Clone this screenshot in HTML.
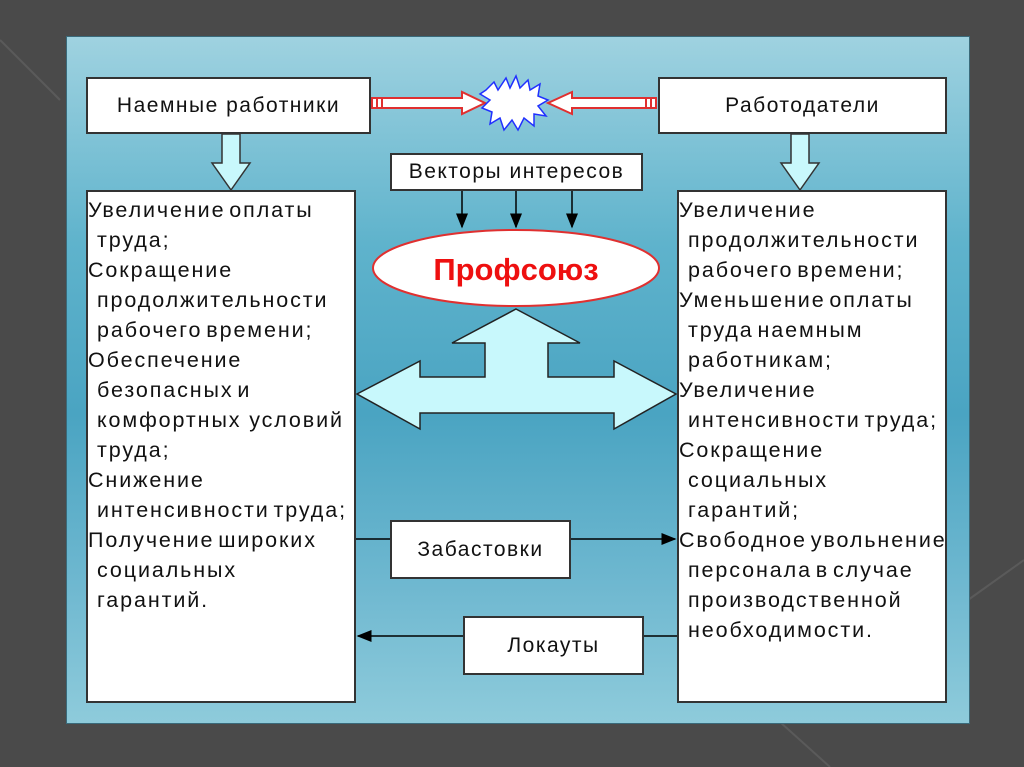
<!DOCTYPE html>
<html><head><meta charset="utf-8"><style>
body{margin:0;width:1024px;height:767px;overflow:hidden;background:#4a4a4a;font-family:"Liberation Sans",sans-serif;position:relative}
.panel{position:absolute;left:66px;top:36px;width:902px;height:686px;background:linear-gradient(#9fd2e0 0%,#5fb3cc 30%,#4aa4c2 55%,#6fb8d0 80%,#8ecbdb 100%);border:1px solid #3a6a7a}
.box{position:absolute;background:#fff;border:2px solid #333;box-sizing:border-box;color:#111;font-size:21px;letter-spacing:1.5px}
.c{display:flex;align-items:center;justify-content:center}
.list{line-height:30px;padding-top:3px;white-space:nowrap;letter-spacing:1.9px;word-spacing:-4px;font-size:21.5px}
.list div{padding-left:9px;text-indent:-9px}
</style></head><body>
<svg width="1024" height="767" style="position:absolute;left:0;top:0">
<line x1="0" y1="40" x2="60" y2="100" stroke="#5a5a5a" stroke-width="2"/>
<line x1="968" y1="600" x2="1024" y2="560" stroke="#5a5a5a" stroke-width="2"/>
<line x1="780" y1="722" x2="830" y2="767" stroke="#5a5a5a" stroke-width="2"/>
</svg>
<div class="panel"></div>
<svg width="1024" height="767" style="position:absolute;left:0;top:0">
<defs><marker id="a" markerWidth="10" markerHeight="8" refX="9" refY="4" orient="auto"><path d="M0,0L10,4L0,8z" fill="#000"/></marker></defs>
<path d="M372,98 H462 V92 L485,103 L462,114 V108 H372 Z" fill="#fff" stroke="#e03030" stroke-width="2"/>
<line x1="377" y1="98" x2="377" y2="108" stroke="#e03030" stroke-width="2"/><line x1="382" y1="98" x2="382" y2="108" stroke="#e03030" stroke-width="2"/>
<path d="M656,98 H572 V92 L548,103 L572,114 V108 H656 Z" fill="#fff" stroke="#e03030" stroke-width="2"/>
<line x1="651" y1="98" x2="651" y2="108" stroke="#e03030" stroke-width="2"/><line x1="646" y1="98" x2="646" y2="108" stroke="#e03030" stroke-width="2"/>
<path d="M486,90 L494,82 L498,90 L506,78 L510,88 L516,76 L520,88 L528,80 L530,90 L540,84 L538,96 L548,100 L538,106 L546,116 L534,114 L534,126 L524,118 L518,130 L512,120 L504,130 L500,118 L490,124 L492,112 L482,108 L490,100 L480,94 Z" fill="#fff" stroke="#2030ff" stroke-width="1.5"/>
<path d="M222,134 H240 V163 H250 L231,190 L212,163 H222 Z" fill="#c8f8fc" stroke="#333" stroke-width="1.5"/>
<path d="M791,134 H809 V163 H819 L800,190 L781,163 H791 Z" fill="#c8f8fc" stroke="#333" stroke-width="1.5"/>
<line x1="462" y1="190" x2="462" y2="227" stroke="#000" stroke-width="1.5" marker-end="url(#a)"/>
<line x1="516" y1="190" x2="516" y2="227" stroke="#000" stroke-width="1.5" marker-end="url(#a)"/>
<line x1="572" y1="190" x2="572" y2="227" stroke="#000" stroke-width="1.5" marker-end="url(#a)"/>
<ellipse cx="516" cy="268" rx="143" ry="38" fill="#fff" stroke="#e03030" stroke-width="2"/>
<text x="516" y="280" text-anchor="middle" font-family="Liberation Sans" font-weight="bold" font-size="31" fill="#ee1010">Профсоюз</text>
<path d="M516,309 L580,343 H548 V377 H614 V361 L676,394 L614,429 V413 H420 V429 L357,394 L420,361 V377 H485 V343 H452 Z" fill="#c8f8fc" stroke="#222" stroke-width="1.5"/>
<line x1="355" y1="539" x2="675" y2="539" stroke="#000" stroke-width="1.5" marker-end="url(#a)"/>
<line x1="677" y1="636" x2="358" y2="636" stroke="#000" stroke-width="1.5" marker-end="url(#a)"/>
</svg>
<div class="box c" style="left:86px;top:77px;width:285px;height:57px">Наемные работники</div>
<div class="box c" style="left:658px;top:77px;width:289px;height:57px">Работодатели</div>
<div class="box c" style="left:390px;top:153px;width:253px;height:38px">Векторы интересов</div>
<div class="box c" style="left:390px;top:520px;width:181px;height:59px">Забастовки</div>
<div class="box c" style="left:463px;top:616px;width:181px;height:59px">Локауты</div>
<div class="box list" style="left:86px;top:190px;width:270px;height:513px">
<div>Увеличение оплаты<br>труда;</div>
<div>Сокращение<br>продолжительности<br>рабочего времени;</div>
<div>Обеспечение<br>безопасных и<br>комфортных&nbsp; условий<br>труда;</div>
<div>Снижение<br>интенсивности труда;</div>
<div>Получение широких<br>социальных<br>гарантий.</div>
</div>
<div class="box list" style="left:677px;top:190px;width:270px;height:513px">
<div>Увеличение<br>продолжительности<br>рабочего времени;</div>
<div>Уменьшение оплаты<br>труда наемным<br>работникам;</div>
<div>Увеличение<br>интенсивности труда;</div>
<div>Сокращение<br>социальных<br>гарантий;</div>
<div>Свободное увольнение<br>персонала в случае<br>производственной<br>необходимости.</div>
</div>
</body></html>
